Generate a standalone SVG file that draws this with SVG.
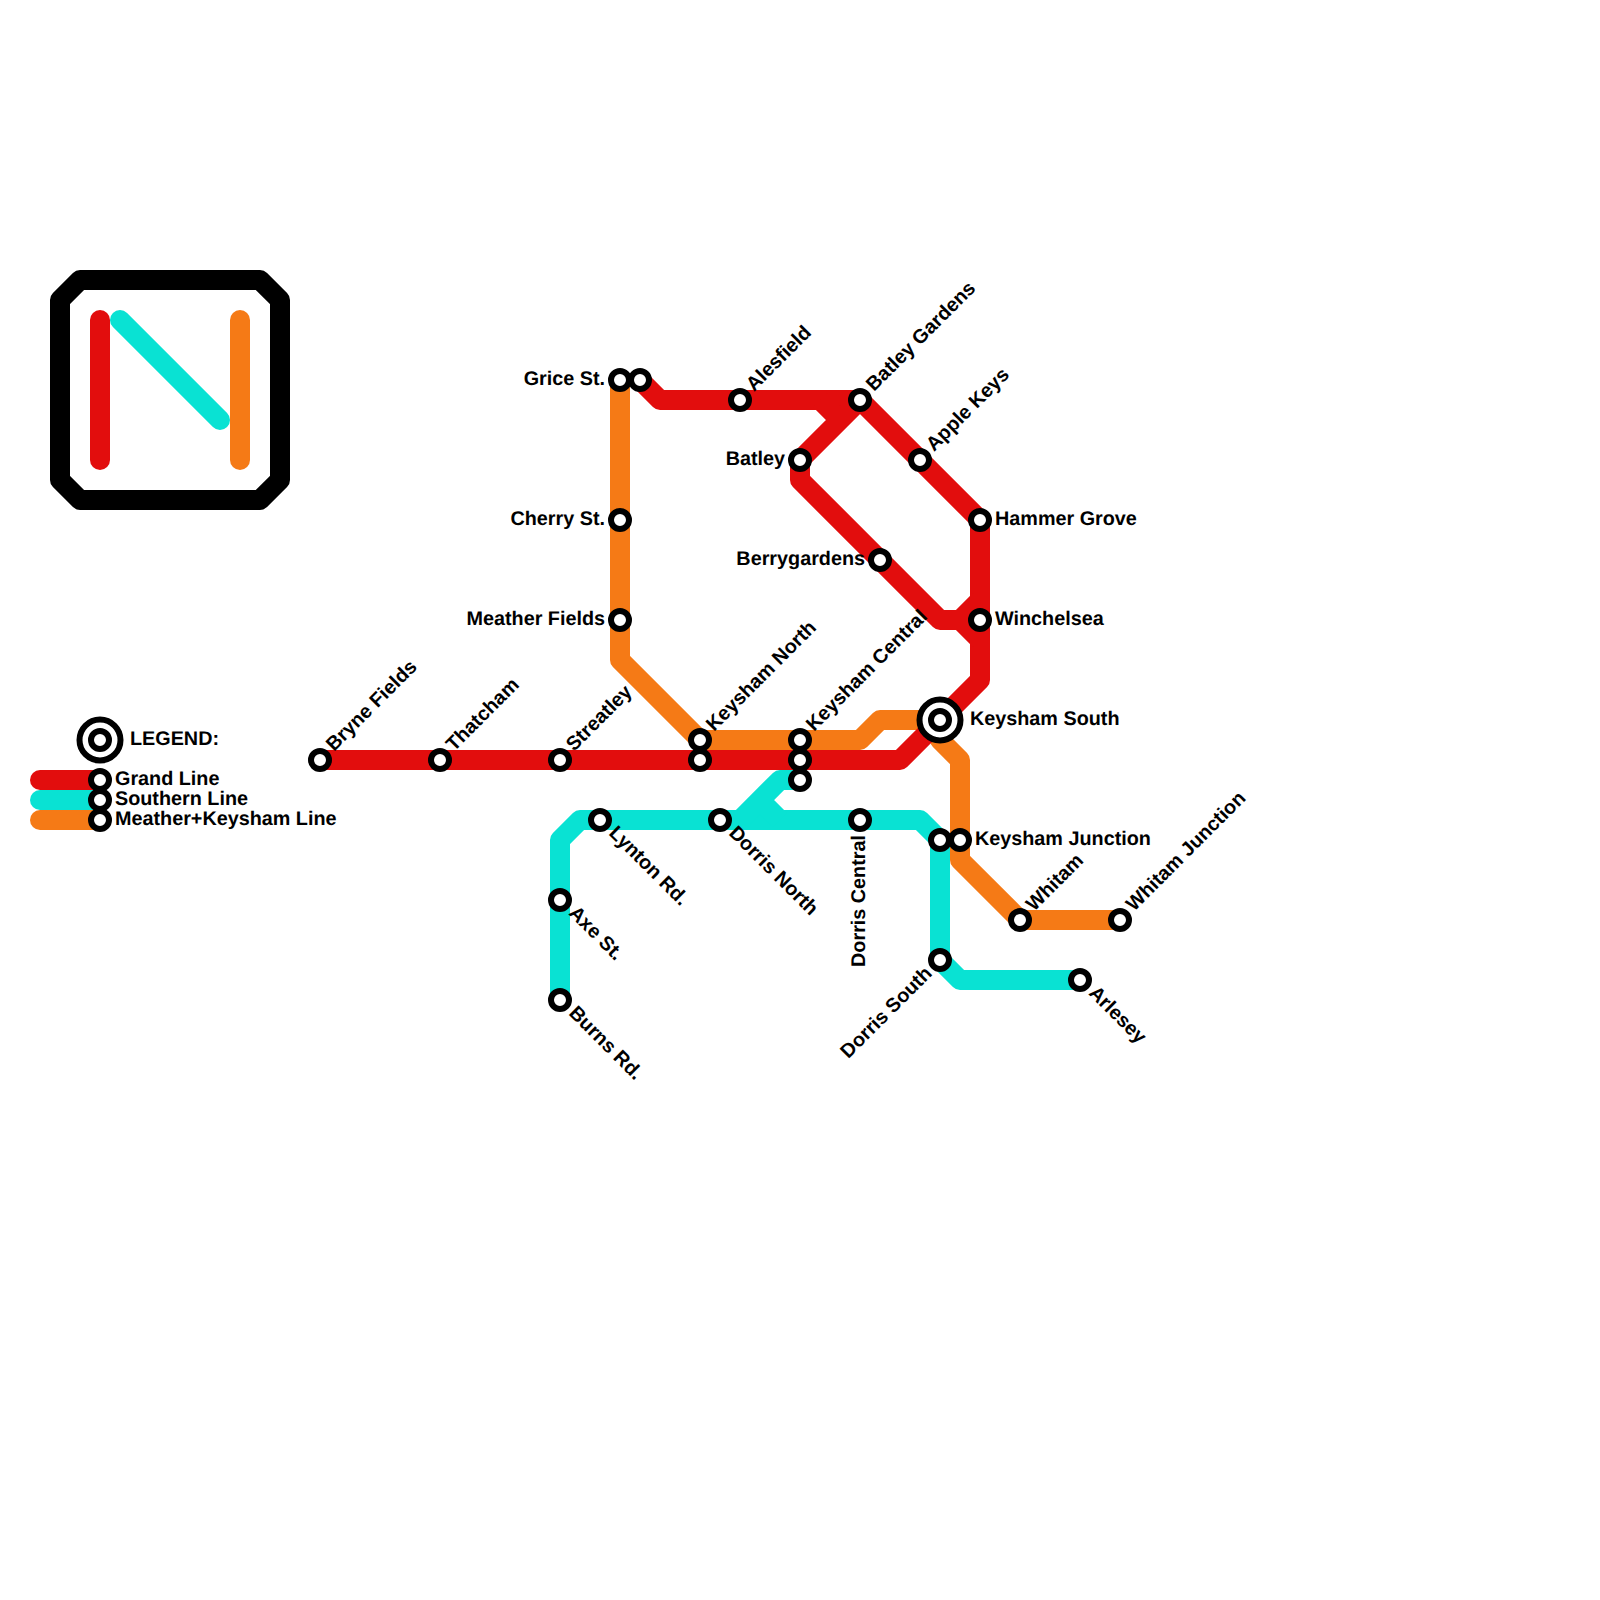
<svg xmlns="http://www.w3.org/2000/svg" width="1600" height="1600" viewBox="0 0 1600 1600">
<style>
.l{fill:none;stroke-width:20;stroke-linejoin:round;stroke-linecap:butt}
.c{stroke-linecap:round}
.r{stroke:#e20d0d}.t{stroke:#09e2d3}.o{stroke:#f57a16}.k{stroke:#000}
.s{fill:#fff;stroke:#000;stroke-width:6}
.i{fill:#fff;stroke:#000;stroke-width:6}
text{font-family:"Liberation Sans",Arial,sans-serif;font-size:19.8px;font-weight:bold;fill:#000;text-rendering:geometricPrecision}
.e{text-anchor:end}
</style>
<defs><circle id="st" class="s" r="9"/></defs>
<g id="north-logo">
<path class="l k" d="M80 280H260L280 300V480L260 500H80L60 480V300Z"/>
<path class="l c r" d="M100 320V460"/>
<path class="l c t" d="M120 320L220 420"/>
<path class="l c o" d="M240 320V460"/>
</g>
<g id="connectors">
<path class="l c r" d="M40 780H100"/>
<path class="l c t" d="M40 800H100"/>
<path class="l c o" d="M40 820H100"/>
<path class="l o" d="M620 380V660L700 740H860L880 720H940V740L960 760V860L1020 920H1120"/>
<path class="l t" d="M560 1000V840L580 820H920L940 840V960L960 980H1080"/>
<path class="l t" d="M740 820L780 780H800M760 800L780 820"/>
<path class="l r" d="M320 760H900L980 680V520L860 400H660L640 380"/>
<path class="l r" d="M860 400L800 460V480L940 620H980M820 400L840 420M960 620L980 600M960 620L980 640"/>
</g>
<g id="legend-title"><circle class="i" cx="100" cy="740" r="20.5"/><use href="#st" x="100" y="740"/><text x="130" y="745">LEGEND:</text></g>
<g id="legend-grand"><use href="#st" x="100" y="780"/><text x="115" y="785">Grand Line</text></g>
<g id="legend-southern"><use href="#st" x="100" y="800"/><text x="115" y="805">Southern Line</text></g>
<g id="legend-meather"><use href="#st" x="100" y="820"/><text x="115" y="825">Meather+Keysham Line</text></g>
<g id="bryne-fields"><use href="#st" x="320" y="760"/><text transform="translate(334 752) rotate(-45)">Bryne Fields</text></g>
<g id="thatcham"><use href="#st" x="440" y="760"/><text transform="translate(454 752) rotate(-45)">Thatcham</text></g>
<g id="streatley"><use href="#st" x="560" y="760"/><text transform="translate(574 752) rotate(-45)">Streatley</text></g>
<g id="keysham-north-a"><use href="#st" x="700" y="740"/><text transform="translate(714 732) rotate(-45)">Keysham North</text></g>
<g id="keysham-north-b"><use href="#st" x="700" y="760"/></g>
<g id="keysham-central-a"><use href="#st" x="800" y="740"/><text transform="translate(814 732) rotate(-45)">Keysham Central</text></g>
<g id="keysham-central-b"><use href="#st" x="800" y="760"/></g>
<g id="keysham-central-c"><use href="#st" x="800" y="780"/></g>
<g id="grice-st"><use href="#st" x="620" y="380"/><text class="e" x="605" y="385">Grice St.</text></g>
<g id="grice-st-b"><use href="#st" x="640" y="380"/></g>
<g id="cherry-st"><use href="#st" x="620" y="520"/><text class="e" x="605" y="525">Cherry St.</text></g>
<g id="meather-fields"><use href="#st" x="620" y="620"/><text class="e" x="605" y="625">Meather Fields</text></g>
<g id="alesfield"><use href="#st" x="740" y="400"/><text transform="translate(754 392) rotate(-45)">Alesfield</text></g>
<g id="batley-gardens"><use href="#st" x="860" y="400"/><text transform="translate(874 392) rotate(-45)">Batley Gardens</text></g>
<g id="apple-keys"><use href="#st" x="920" y="460"/><text transform="translate(934 452) rotate(-45)">Apple Keys</text></g>
<g id="batley"><use href="#st" x="800" y="460"/><text class="e" x="785" y="465">Batley</text></g>
<g id="hammer-grove"><use href="#st" x="980" y="520"/><text x="995" y="525">Hammer Grove</text></g>
<g id="berrygardens"><use href="#st" x="880" y="560"/><text class="e" x="865" y="565">Berrygardens</text></g>
<g id="winchelsea"><use href="#st" x="980" y="620"/><text x="995" y="625">Winchelsea</text></g>
<g id="keysham-south"><circle class="i" cx="940" cy="720" r="20.5"/><use href="#st" x="940" y="720"/><text x="970" y="725">Keysham South</text></g>
<g id="keysham-junction"><use href="#st" x="960" y="840"/><text x="975" y="845">Keysham Junction</text></g>
<g id="whitam"><use href="#st" x="1020" y="920"/><text transform="translate(1034 912) rotate(-45)">Whitam</text></g>
<g id="whitam-junction"><use href="#st" x="1120" y="920"/><text transform="translate(1134 912) rotate(-45)">Whitam Junction</text></g>
<g id="lynton-rd"><use href="#st" x="600" y="820"/><text transform="translate(608 834) rotate(45)">Lynton Rd.</text></g>
<g id="dorris-north"><use href="#st" x="720" y="820"/><text transform="translate(728 834) rotate(45)">Dorris North</text></g>
<g id="dorris-central"><use href="#st" x="860" y="820"/><text class="e" transform="translate(865 835) rotate(-90)">Dorris Central</text></g>
<g id="dorris-south-a"><use href="#st" x="940" y="840"/></g>
<g id="dorris-south"><use href="#st" x="940" y="960"/><text class="e" transform="translate(933 974.500) rotate(-45)">Dorris South</text></g>
<g id="axe-st"><use href="#st" x="560" y="900"/><text transform="translate(568 914) rotate(45)">Axe St.</text></g>
<g id="burns-rd"><use href="#st" x="560" y="1000"/><text transform="translate(568 1014) rotate(45)">Burns Rd.</text></g>
<g id="arlesey"><use href="#st" x="1080" y="980"/><text transform="translate(1088 994) rotate(45)">Arlesey</text></g>
</svg>
